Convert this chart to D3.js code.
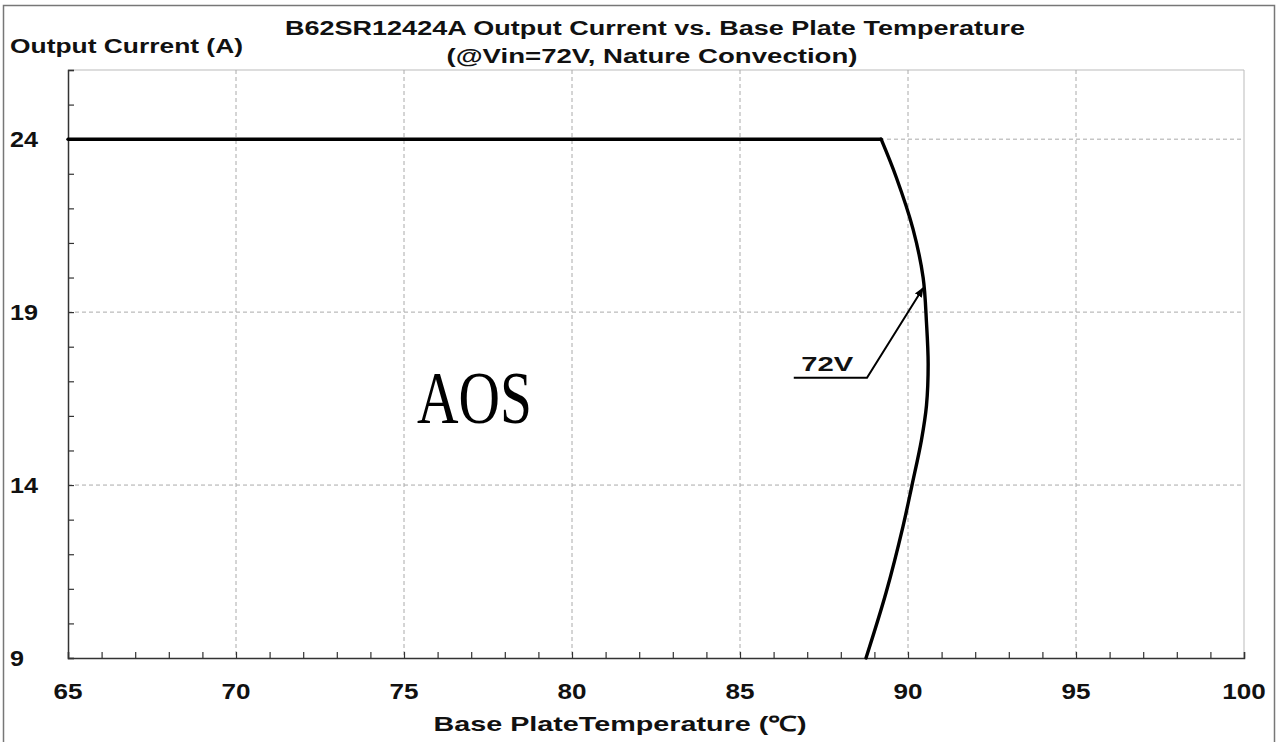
<!DOCTYPE html>
<html><head><meta charset="utf-8">
<script src="https://cdn.jsdelivr.net/npm/d3@7"></script>
<style>body{margin:0;background:#fff}svg{display:block}</style>
</head><body>
<svg id="c" width="1279" height="742"></svg>
<script>
const titleLines = ["B62SR12424A Output Current vs. Base Plate Temperature", "(@Vin=72V, Nature Convection)"];
const yAxisTitle = "Output Current (A)";
const xAxisTitle = "Base PlateTemperature (\u2103)";
const xTicks = [65, 70, 75, 80, 85, 90, 95, 100];
const yTicks = [9, 14, 19, 24];
const xDomain = [65, 100];
const yDomain = [9, 26];
const seriesName = "72V";
const temperature = [65, 89.2, 89.65, 90.15, 90.45, 90.55, 90.6, 90.55, 90.4, 90.12, 89.85, 89.35, 88.75];
const current =     [24, 24,   22.9,  21.4,  20.0,  18.7,  17.5,  16.3,  15.3,  14.0,  12.8,  10.9,   9.0];
const watermark = "AOS";

const svg = d3.select("#c");
const W = 1279, H = 742;
const m = {l: 68, r: 1244, t: 70, b: 658};
const x = d3.scaleLinear().domain(xDomain).range([m.l, m.r]);
const y = d3.scaleLinear().domain(yDomain).range([m.b, m.t]);
const F = "Arial, 'Liberation Sans', sans-serif";

svg.append("rect").attr("x", 0).attr("y", 0).attr("width", W).attr("height", H).attr("fill", "#fff");
svg.append("rect").attr("x", 3.5).attr("y", 5.5).attr("width", 1271).attr("height", 760)
  .attr("fill", "none").attr("stroke", "#777").attr("stroke-width", 1.5);

// plot box top/right
svg.append("path").attr("d", `M${m.l},${m.t}H${m.r}V${m.b}`).attr("fill", "none").attr("stroke", "#bbb").attr("stroke-width", 1);

// grid
const minorX = d3.range(xDomain[0], xDomain[1] + 0.001, 1);
const minorY = d3.range(yDomain[0], yDomain[1] + 0.001, 1);
svg.append("g").selectAll("line").data(xTicks.filter(d => d > xDomain[0] && d < xDomain[1])).join("line")
  .attr("x1", d => x(d)).attr("x2", d => x(d)).attr("y1", m.t).attr("y2", m.b)
  .attr("stroke", "#aaa").attr("stroke-width", 1).attr("stroke-dasharray", "4,3");
svg.append("g").selectAll("line").data(yTicks.filter(d => d > yDomain[0])).join("line")
  .attr("x1", m.l).attr("x2", m.r).attr("y1", d => y(d)).attr("y2", d => y(d))
  .attr("stroke", "#aaa").attr("stroke-width", 1).attr("stroke-dasharray", "4,3");

// axes
const xAxis = d3.axisTop(x).tickValues(minorX).tickSize(6).tickFormat("");
const gx = svg.append("g").attr("transform", `translate(0,${m.b})`).call(xAxis);
gx.select(".domain").attr("stroke", "#333").attr("stroke-width", 1.5);
gx.selectAll(".tick line").attr("stroke", "#333").attr("stroke-width", 1.2);
const yAxis = d3.axisRight(y).tickValues(minorY).tickSize(6).tickFormat("");
const gy = svg.append("g").attr("transform", `translate(${m.l},0)`).call(yAxis);
gy.select(".domain").attr("stroke", "#333").attr("stroke-width", 1.5);
gy.selectAll(".tick line").attr("stroke", "#333").attr("stroke-width", 1.2);

function txt(s, px, py, size, anchor, len) {
  const t = svg.append("text").attr("x", px).attr("y", py).attr("font-family", F)
    .attr("font-weight", "bold").attr("font-size", size).attr("text-anchor", anchor || "start").attr("fill", "#111").text(s);
  if (len) t.attr("textLength", len).attr("lengthAdjust", "spacingAndGlyphs");
  return t;
}

// tick labels
svg.append("g").selectAll("text").data(xTicks).join("text")
  .attr("x", d => x(d)).attr("y", 699).attr("text-anchor", "middle")
  .attr("font-family", F).attr("font-weight", "bold").attr("font-size", 22).attr("fill", "#111")
  .attr("textLength", d => String(d).length * 14.5).attr("lengthAdjust", "spacingAndGlyphs")
  .text(d => d);
svg.append("g").selectAll("text").data(yTicks).join("text")
  .attr("x", 10).attr("y", d => y(d) + 8).attr("text-anchor", "start")
  .attr("font-family", F).attr("font-weight", "bold").attr("font-size", 22).attr("fill", "#111")
  .attr("textLength", d => String(d).length * 14).attr("lengthAdjust", "spacingAndGlyphs")
  .text(d => d);

// titles
txt(titleLines[0], 655, 35, 19.5, "middle", 740);
txt(titleLines[1], 652, 63, 19.5, "middle", 411);
txt(yAxisTitle, 10, 53, 19.5, "start", 233);
txt(xAxisTitle, 620, 731, 21, "middle", 373);

// curve: flat segment + smooth derating segment
const pts = temperature.map((t, i) => [t, current[i]]);
const line = d3.line().x(d => x(d[0])).y(d => y(d[1]));
const curveLine = d3.line().x(d => x(d[0])).y(d => y(d[1])).curve(d3.curveCatmullRom.alpha(0.5));
svg.append("path").datum(pts.slice(0, 2)).attr("d", line).attr("fill", "none")
  .attr("stroke", "#000").attr("stroke-width", 3.4).attr("stroke-linecap", "round");
svg.append("path").datum(pts.slice(1)).attr("d", curveLine).attr("fill", "none")
  .attr("stroke", "#000").attr("stroke-width", 3.4).attr("stroke-linejoin", "round").attr("stroke-linecap", "round");

// annotation
svg.append("defs").append("marker").attr("id", "arr").attr("viewBox", "0 0 10 10")
  .attr("refX", 9).attr("refY", 5).attr("markerWidth", 5).attr("markerHeight", 5).attr("orient", "auto")
  .append("path").attr("d", "M0,1L10,5L0,9Z").attr("fill", "#000");
const a0 = [86.6, 17.1], a1 = [88.78, 17.1], a2 = [90.45, 19.7];
svg.append("path").attr("d", `M${x(a0[0])},${y(a0[1])}L${x(a1[0])},${y(a1[1])}L${x(a2[0])},${y(a2[1])}`)
  .attr("fill", "none").attr("stroke", "#000").attr("stroke-width", 2).attr("marker-end", "url(#arr)");
txt(seriesName, x(86.82), y(17.5) + 7, 21, "start", 52);

// watermark
svg.append("text").attr("x", 417).attr("y", 423).attr("font-family", "'Liberation Serif', 'Times New Roman', serif")
  .attr("font-size", 74).attr("fill", "#000").attr("textLength", 115).attr("lengthAdjust", "spacingAndGlyphs").text(watermark);
</script>
</body></html>
